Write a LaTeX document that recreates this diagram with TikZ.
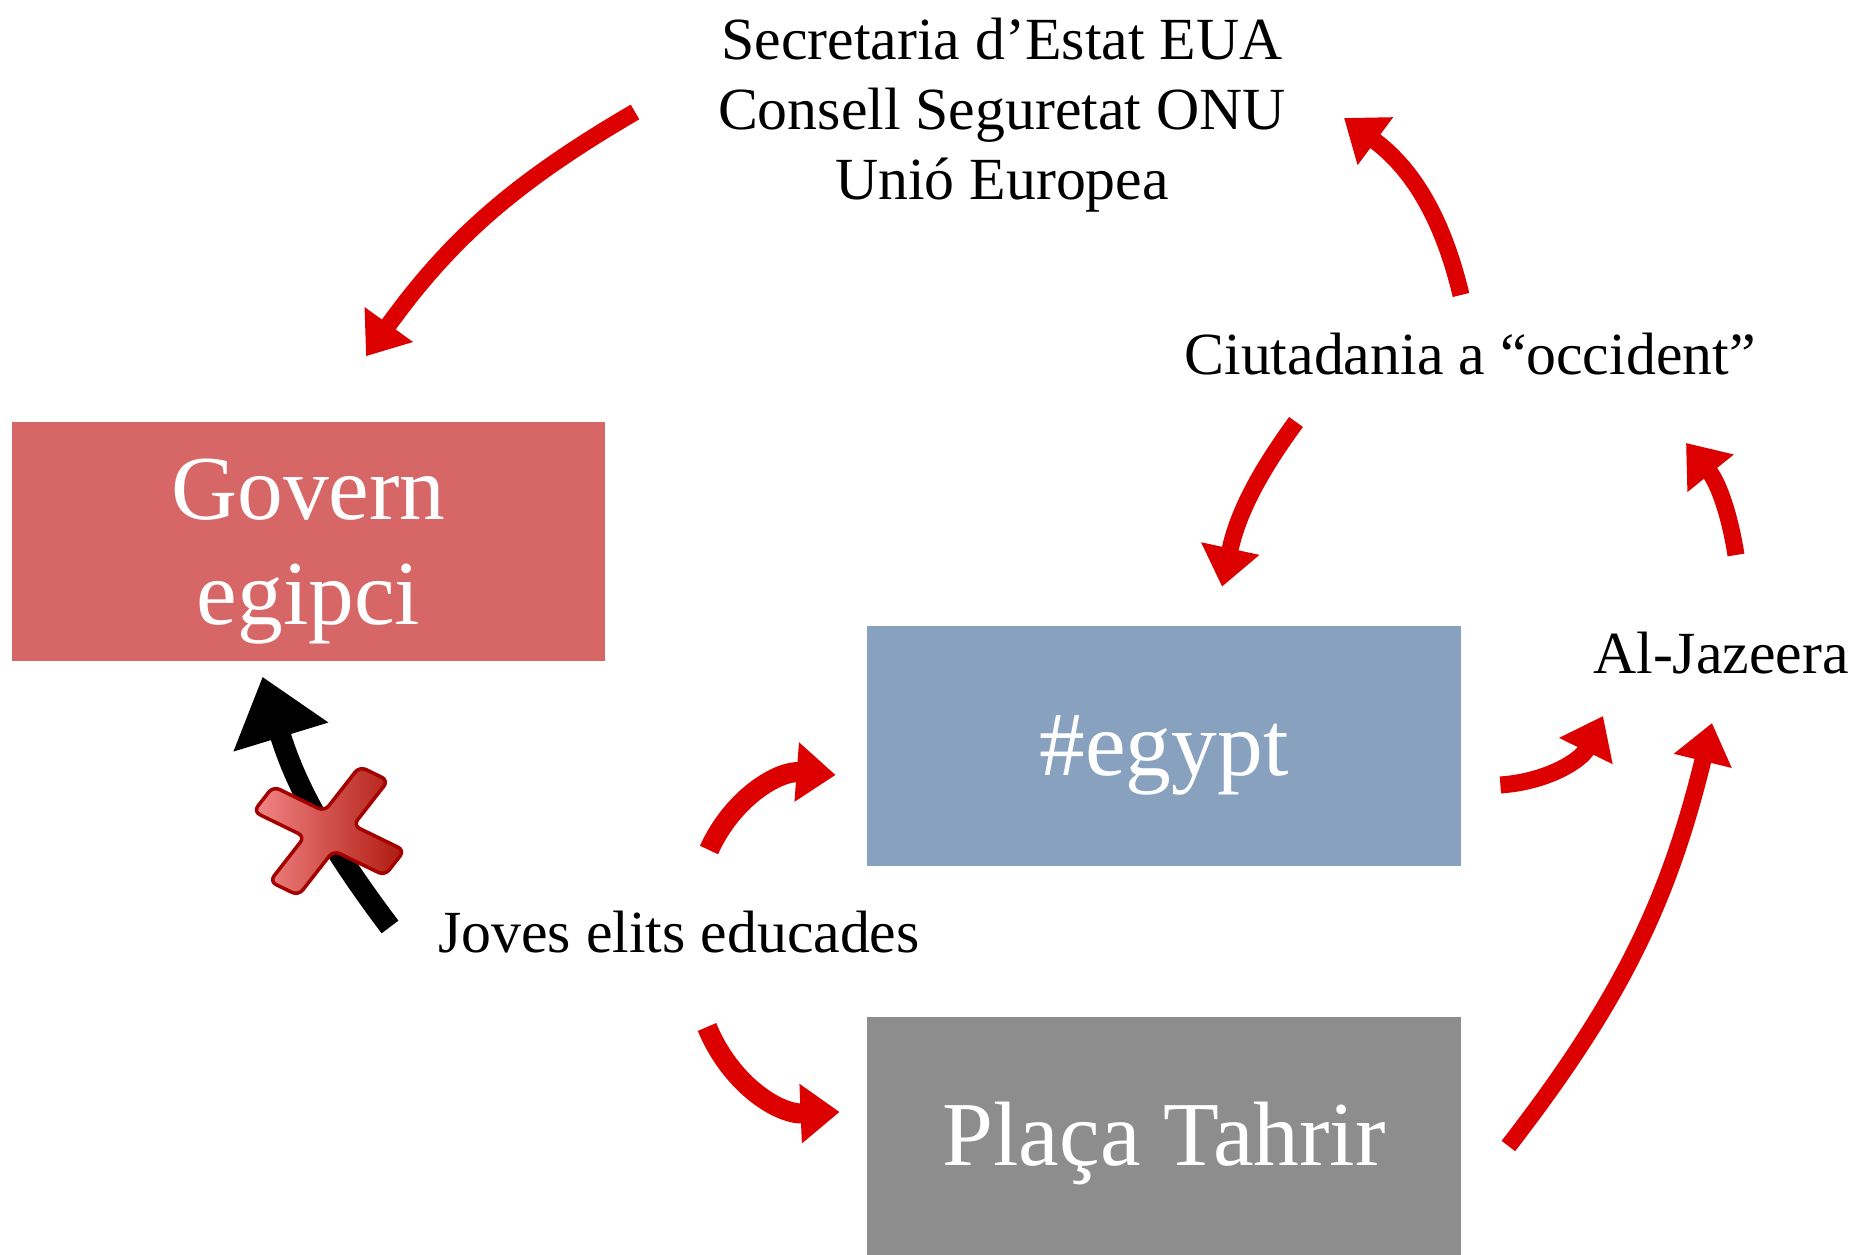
\documentclass[tikz,border=0pt]{standalone}
\usepackage{fontspec}
\setmainfont{Liberation Serif}
\usetikzlibrary{arrows.meta,calc}
\definecolor{arrowred}{RGB}{221,0,0}
\definecolor{governred}{RGB}{215,102,102}
\definecolor{egyptblue}{RGB}{135,161,191}
\definecolor{tahrirgrey}{RGB}{141,141,141}
\definecolor{crosslight}{RGB}{242,135,135}
\definecolor{crossdark}{RGB}{175,25,15}
\definecolor{crossedge}{RGB}{165,0,0}

\begin{document}
\begin{tikzpicture}[x=0.01cm, y=0.01cm,
    panel/.style={minimum width=5.93cm, minimum height=2.39cm, inner sep=0pt, text=white, align=center, font=\fontsize{26}{30}\selectfont},
    solo/.style={text height=0.78cm, text depth=0.2cm},
    actor/.style={inner sep=0pt, align=center, font=\fontsize{17}{20}\selectfont},
    redarrow/.style={draw=arrowred, line width=0.17cm, -{Triangle[length=0.39cm, width=0.57cm]}},
    blackarrow/.style={draw=black, line width=0.21cm, -{Triangle[length=0.63cm, width=0.95cm]}}]
        \useasboundingbox (0,0) rectangle (1852,1255);

        \node[panel, fill=governred, text depth=0pt] (govern) at (308.5,713.5) {Govern\\egipci};
        \node[panel, solo, fill=egyptblue] (egypt) at (1164,509) {\#egypt};
        \node[panel, solo, fill=tahrirgrey] (tahrir) at (1164,118.5) {Plaça Tahrir};

        \node[actor] (inst) at (1002,1140) {Secretaria d’Estat EUA\\Consell Seguretat ONU\\Unió Europea};
        \node[actor] (ciut) at (1470,901) {Ciutadania a “occident”};
        \node[actor] (alj) at (1721,602) {Al-Jazeera};
        \node[actor] (joves) at (679,323) {Joves elits educades};

        \draw[redarrow] ($(inst)+(-367,3)$) to[bend right=12] ($(govern.north)+(57.5,65)$);
        \draw[redarrow] ($(ciut)+(-9,59)$) to[bend right=20] ($(inst)+(342,-3)$);
        \draw[redarrow] ($(ciut)+(-174,-68)$) to[bend right=12] ($(egypt.north)+(58,39)$);
        \draw[redarrow] ($(alj)+(15,98)$) to[bend right=15] ($(ciut)+(216,-89)$);
        \draw[redarrow] ($(egypt.east)+(39,-39)$) to[bend right=30] ($(alj)+(-118,-63)$);
        \draw[redarrow] ($(tahrir.east)+(47,-9.5)$) to[bend right=12] ($(alj)+(-9,-70)$);
        \draw[redarrow, line width=0.2cm] ($(joves)+(30,82)$) to[bend left=35] ($(egypt.west)+(-31,-29)$);
        \draw[redarrow, line width=0.2cm] ($(joves)+(28,-95)$) to[bend right=35] ($(tahrir.west)+(-27,24.5)$);

        \draw[blackarrow] ($(joves)+(-289,5)$) to[bend left=10] ($(govern.south)+(-46,-15)$);

        % blocked
        \begin{scope}[shift={(329,424)}, cm={0.899,-0.438,0.616,0.788,(0,0)}]
        \shade[draw=crossedge, line width=1pt, rounded corners=2pt, left color=crosslight, right color=crossdark]
            (-73,-16) -- (-16,-16) -- (-16,-73) -- (16,-73) -- (16,-16) -- (73,-16)
            -- (73,16) -- (16,16) -- (16,73) -- (-16,73) -- (-16,16) -- (-73,16) -- cycle;
        \end{scope}
\end{tikzpicture}
\end{document}
